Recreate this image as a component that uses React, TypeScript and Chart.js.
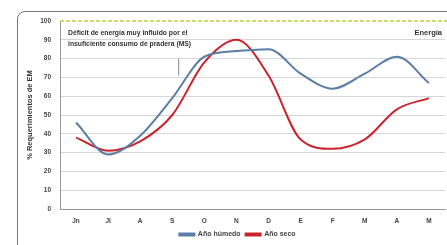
import React, { useEffect, useRef } from "react";
import { Chart, registerables } from "chart.js";

Chart.register(...registerables);

const categories = ["Jn", "Jl", "A", "S", "O", "N", "D", "E", "F", "M", "A", "M"];
const humedo = [46, 29, 39, 59, 81, 84, 85, 72, 64, 72, 81, 67];
const seco = [38, 31, 36, 50, 78, 90, 71, 37, 32, 37, 53, 59];
const yTicks = [0, 10, 20, 30, 40, 50, 60, 70, 80, 90, 100];
const seriesNames = ["Año húmedo", "Año seco"];
const energyLevel = 100;
const noteLines = ["Déficit de energía muy influido por el", "insuficiente consumo de pradera (MS)"];
const energyLabel = "Energía";
const markerX = 3.2;
const markerRange = [71, 80];

const FONT = "'Liberation Sans', Arial, sans-serif";

const overlayPlugin = {
  id: "overlay",
  afterLayout(chart: any) {
    const lg = chart.legend;
    if (lg) {
      lg.left += 15;
      lg.right += 15;
      lg.top += 3;
      lg.bottom += 3;
    }
  },
  afterDatasetsDraw(chart: any) {
    const { ctx, chartArea, scales } = chart;
    const y = scales.y;
    const x = scales.x;
    ctx.save();
    const yy = y.getPixelForValue(energyLevel);
    ctx.strokeStyle = "#bfd040";
    ctx.lineWidth = 1.5;
    ctx.setLineDash([4, 2]);
    ctx.beginPath();
    ctx.moveTo(chartArea.left, yy);
    ctx.lineTo(chartArea.right + 4, yy);
    ctx.stroke();
    ctx.setLineDash([]);
    const mx = x.getPixelForValue(markerX);
    ctx.strokeStyle = "#888";
    ctx.lineWidth = 1;
    ctx.beginPath();
    ctx.moveTo(mx, y.getPixelForValue(markerRange[1]));
    ctx.lineTo(mx, y.getPixelForValue(markerRange[0]));
    ctx.stroke();
    ctx.fillStyle = "#333";
    ctx.font = `bold 6.8px ${FONT}`;
    ctx.textBaseline = "middle";
    ctx.textAlign = "left";
    ctx.fillText(noteLines[0], chartArea.left + 8, yy + 12);
    ctx.fillText(noteLines[1], chartArea.left + 8, yy + 23);
    ctx.textAlign = "right";
    ctx.font = `bold 7.5px ${FONT}`;
    ctx.fillText(energyLabel, chartArea.right - 3, yy + 12);
    ctx.restore();
  },
};

export default function App() {
  const ref = useRef<HTMLCanvasElement>(null);
  useEffect(() => {
    document.body.style.margin = "0";
    const chart = new Chart(ref.current!, {
      type: "line",
      data: {
        labels: categories,
        datasets: [
          {
            label: seriesNames[0],
            data: humedo,
            borderColor: "#5b7ea6",
            backgroundColor: "#5b7ea6",
            borderWidth: 2,
            pointRadius: 0,
            tension: 0.4,
            cubicInterpolationMode: "monotone",
          },
          {
            label: seriesNames[1],
            data: seco,
            borderColor: "#c9242c",
            backgroundColor: "#c9242c",
            borderWidth: 2,
            pointRadius: 0,
            tension: 0.4,
            cubicInterpolationMode: "monotone",
          },
        ],
      },
      options: {
        animation: false,
        responsive: false,
        layout: { padding: { top: 21, right: 2, left: 0, bottom: 0 } },
        plugins: {
          legend: {
            position: "bottom",
            labels: {
              boxWidth: 15,
              boxHeight: 2,
              padding: 5,
              color: "#444",
              font: { family: FONT, size: 7, weight: "bold" },
            },
          },
          tooltip: { enabled: false },
        },
        scales: {
          x: {
            offset: true,
            grid: { display: false, drawTicks: false },
            border: { color: "#999" },
            ticks: { color: "#444", padding: 8, font: { family: FONT, size: 6.5, weight: "bold" } },
            afterFit(s: any) { s.height = 14; },
          },
          y: {
            min: 0,
            max: 100,
            afterBuildTicks(s: any) { s.ticks = yTicks.map((v) => ({ value: v })); },
            grid: {
              drawTicks: false,
              color: (c: any) => (c.tick && c.tick.value === energyLevel ? "rgba(0,0,0,0)" : "#d6d6d6"),
            },
            border: { color: "#999" },
            ticks: { color: "#444", padding: 9, font: { family: FONT, size: 6.5, weight: "bold" } },
            title: {
              display: true,
              text: "% Requerimientos de EM",
              color: "#333",
              padding: { top: 25, bottom: 0 },
              font: { family: FONT, size: 7.5, weight: "bold" },
            },
            afterFit(s: any) { s.width = 60; },
          },
        },
      },
      plugins: [overlayPlugin],
    });
    return () => chart.destroy();
  }, []);
  return (
    <div style={{ position: "fixed", left: 0, top: 0, width: 447, height: 245, overflow: "hidden", background: "#fff" }}>
      <div
        style={{
          position: "absolute",
          left: 17,
          top: 11,
          width: 460,
          height: 260,
          border: "1px solid #777",
          borderRadius: 8,
          boxSizing: "border-box",
        }}
      />
      <canvas ref={ref} width={447} height={245} style={{ position: "absolute", left: 0, top: 0, width: 447, height: 245 }} />
    </div>
  );
}
